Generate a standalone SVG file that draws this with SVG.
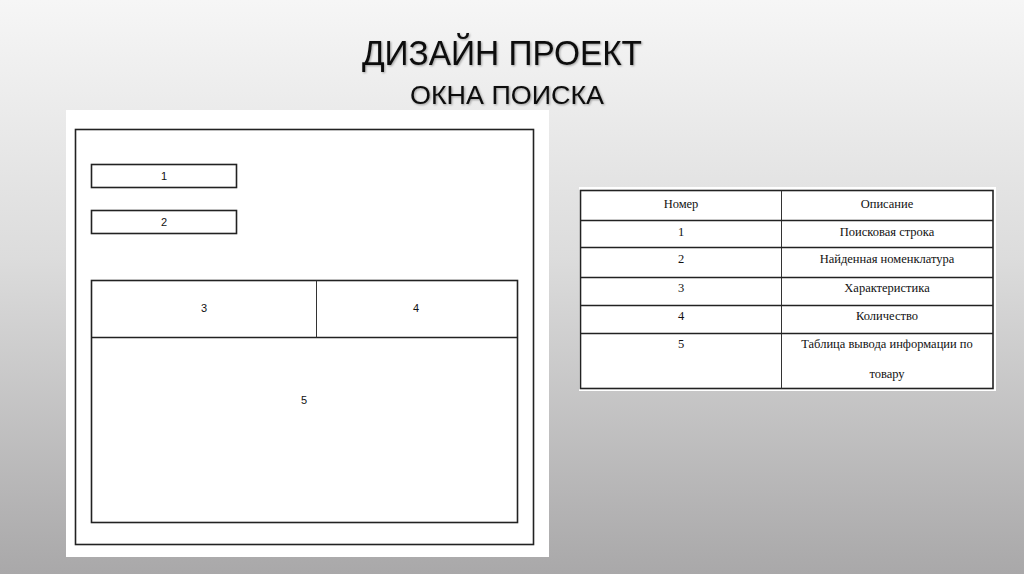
<svg xmlns="http://www.w3.org/2000/svg" width="1024" height="574" viewBox="0 0 1024 574">
<defs>
<linearGradient id="bg" x1="0" y1="0" x2="0" y2="1">
<stop offset="0" stop-color="#f6f6f6"/>
<stop offset="0.45" stop-color="#dcdcdc"/>
<stop offset="1" stop-color="#a9a8a9"/>
</linearGradient>
<filter id="sh" x="-5%" y="-20%" width="110%" height="140%">
<feDropShadow dx="1" dy="1" stdDeviation="0.8" flood-color="#000" flood-opacity="0.35"/>
</filter>
</defs>
<style>
.title{font-family:"Liberation Sans",Arial,sans-serif;fill:#111;text-anchor:middle}
.ln{fill:none;stroke:#222;stroke-width:1.6}
.thin{fill:none;stroke:#333;stroke-width:1}
.lbl{font-family:"Liberation Sans",Arial,sans-serif;font-size:11px;fill:#111;text-anchor:middle}
.tt{font-family:"Liberation Serif","Times New Roman",serif;font-size:12.5px;fill:#111;text-anchor:middle}
</style>
<rect x="0" y="0" width="1024" height="574" fill="url(#bg)"/>
<g id="title" filter="url(#sh)">
<text class="title" x="502" y="65" font-size="35" textLength="280" lengthAdjust="spacingAndGlyphs">ДИЗАЙН ПРОЕКТ</text>
<text class="title" x="507" y="104" font-size="25" textLength="194" lengthAdjust="spacingAndGlyphs">ОКНА ПОИСКА</text>
</g>
<g id="mockup">
<rect x="66" y="110" width="483" height="447" fill="#ffffff"/>
<rect class="ln" x="75.5" y="129.5" width="458" height="415"/>
<g id="field1">
<rect class="ln" x="91.5" y="164.5" width="145" height="23" stroke-width="1.3"/>
<text class="lbl" x="164" y="180">1</text>
</g>
<g id="field2">
<rect class="ln" x="91.5" y="210.5" width="145" height="23" stroke-width="1.3"/>
<text class="lbl" x="164" y="226">2</text>
</g>
<g id="grid">
<rect class="ln" x="91.5" y="280.5" width="426" height="242" stroke-width="1.3"/>
<line class="ln" x1="91.5" y1="337.5" x2="517.5" y2="337.5" stroke-width="1.3"/>
<line class="thin" x1="316.5" y1="280.5" x2="316.5" y2="337.5"/>
<text class="lbl" x="204" y="312">3</text>
<text class="lbl" x="416" y="312">4</text>
<text class="lbl" x="304" y="404">5</text>
</g>
</g>
<g id="legend">
<rect x="579" y="187" width="417" height="204" fill="#ffffff"/>
<rect class="ln" x="580.5" y="190.5" width="412.5" height="198" stroke-width="1.3"/>
<line class="thin" x1="781.5" y1="190.5" x2="781.5" y2="388.5"/>
<line class="ln" x1="580.5" y1="220.5" x2="993" y2="220.5" stroke-width="1.3"/>
<line class="ln" x1="580.5" y1="247.5" x2="993" y2="247.5" stroke-width="1.3"/>
<line class="ln" x1="580.5" y1="277.5" x2="993" y2="277.5" stroke-width="1.3"/>
<line class="ln" x1="580.5" y1="305.5" x2="993" y2="305.5" stroke-width="1.3"/>
<line class="ln" x1="580.5" y1="333.5" x2="993" y2="333.5" stroke-width="1.3"/>
<text class="tt" x="681" y="208">Номер</text>
<text class="tt" x="887" y="208">Описание</text>
<text class="tt" x="681" y="236">1</text>
<text class="tt" x="887" y="236">Поисковая строка</text>
<text class="tt" x="681" y="263">2</text>
<text class="tt" x="887" y="263">Найденная номенклатура</text>
<text class="tt" x="681" y="292">3</text>
<text class="tt" x="887" y="292">Характеристика</text>
<text class="tt" x="681" y="320">4</text>
<text class="tt" x="887" y="320">Количество</text>
<text class="tt" x="681" y="348">5</text>
<text class="tt" x="887" y="348">Таблица вывода информации по</text>
<text class="tt" x="887" y="378">товару</text>
</g>
</svg>
